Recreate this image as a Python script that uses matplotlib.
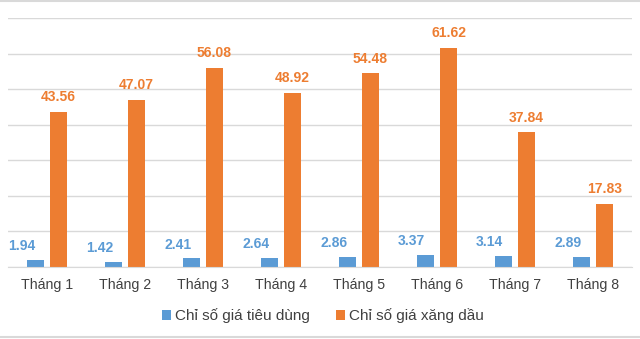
import numpy as np
import matplotlib
matplotlib.use("Agg")
import matplotlib.pyplot as plt
from matplotlib.lines import Line2D

# data
months = ['Tháng 1', 'Tháng 2', 'Tháng 3', 'Tháng 4',
          'Tháng 5', 'Tháng 6', 'Tháng 7', 'Tháng 8']
cpi = [1.94, 1.42, 2.41, 2.64, 2.86, 3.37, 3.14, 2.89]
fuel = [43.56, 47.07, 56.08, 48.92, 54.48, 61.62, 37.84, 17.83]
series_names = ['Chỉ số giá tiêu dùng', 'Chỉ số giá xăng dầu']

blue = '#5B9BD5'
orange = '#ED7D31'

plt.rcParams['font.family'] = ['Liberation Sans', 'DejaVu Sans']

fig = plt.figure(figsize=(6.4, 3.39), dpi=100)
ax = fig.add_axes([8 / 640, 1 - 267 / 339, 624 / 640, 249 / 339])

x = np.arange(len(months))
w = 0.22
off = 0.147
b1 = ax.bar(x - off, cpi, w, color=blue, label=series_names[0])
b2 = ax.bar(x + off, fuel, w, color=orange, label=series_names[1])

for xi, v in zip(x, cpi):
    ax.annotate(f'{v:.2f}', (xi - off, v), xytext=(-10, 10),
                textcoords='offset points', ha='center', va='center',
                color=blue, fontsize=10, fontweight='bold')
for xi, v in zip(x, fuel):
    ax.annotate(f'{v:.2f}', (xi + off, v), xytext=(0, 10.5),
                textcoords='offset points', ha='center', va='center',
                color=orange, fontsize=10, fontweight='bold')

ax.set_xlim(-0.5, len(months) - 0.5)
ax.set_ylim(0, 70)
ax.set_yticks(np.arange(0, 71, 10))
ax.set_yticklabels([])
ax.tick_params(axis='y', length=0)
ax.tick_params(axis='x', length=0, pad=8, labelsize=10.2, colors='#404040')
ax.set_xticks(x)
ax.set_xticklabels(months)
ax.grid(axis='y', color='#D9D9D9', linewidth=1)
ax.set_axisbelow(True)
for s in ['top', 'right', 'left']:
    ax.spines[s].set_visible(False)
ax.spines['bottom'].set_color('#D9D9D9')

leg = fig.legend(handles=[b1, b2], loc='center', bbox_to_anchor=(0.505, 1 - 316 / 339),
                 ncol=2, frameon=False, fontsize=11, handlelength=0.55,
                 handleheight=0.55, handletextpad=0.3, columnspacing=1.7)
for t in leg.get_texts():
    t.set_color('#404040')

# thin grey frame lines at the top and bottom of the picture
for yy in (1 - 0.5 / 339, 1 - 336.5 / 339):
    fig.add_artist(Line2D([0, 1], [yy, yy], transform=fig.transFigure,
                          color='#D9D9D9', linewidth=1.5))

fig.savefig('out.png', dpi=100)
